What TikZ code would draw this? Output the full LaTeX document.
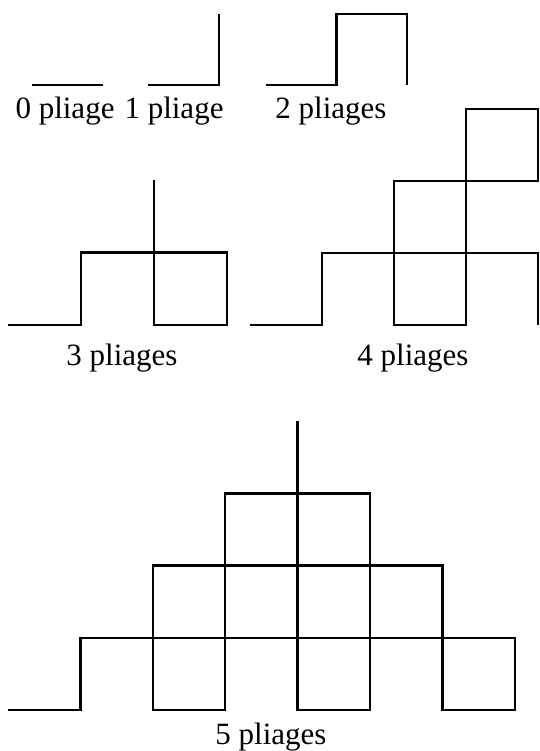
\documentclass[tikz,border=0pt]{standalone}
\usepackage{fontspec}
\setmainfont{Liberation Serif}
\begin{document}
\begin{tikzpicture}[x=1pt,y=-1pt,
  curve/.style={line width=2.3pt,line join=miter,line cap=butt},
  lbl/.style={anchor=base,inner sep=0pt,font=\fontsize{31}{36}\selectfont}]
\useasboundingbox[fill=white] (0,0) rectangle (539,751);
% top row
\begin{scope}[xshift=32pt,yshift=-85pt,x=71pt,y=71pt]
  \draw[curve] (0,0) -- (1,0);
\end{scope}
\begin{scope}[xshift=148pt,yshift=-85pt,x=71pt,y=71pt]
  \draw[curve] (0,0) -- (1,0) -- (1,1);
\end{scope}
\begin{scope}[xshift=266pt,yshift=-85pt,x=70.5pt,y=71pt]
  \draw[curve] (0,0) -- (1,0) -- (1,1) -- (2,1) -- (2,0);
\end{scope}
\node[lbl] (l0) at (65,119) {0 pliage};
\node[lbl] (l1) at (174,119) {1 pliage};
\node[lbl] (l2) at (331,119) {2 pliages};
% 3 pliages
\begin{scope}[xshift=8pt,yshift=-325pt,x=73pt,y=72.5pt]
  \draw[curve] (0,0) -- (1,0) -- (1,1) -- (2,1) -- (3,1) -- (3,0) -- (2,0) -- (2,1) -- (2,2);
\end{scope}
\node[lbl] (l3) at (122,365) {3 pliages};
% 4 pliages
\begin{scope}[xshift=250pt,yshift=-325pt,x=72pt,y=72pt]
  \draw[curve] (0,0) -- (1,0) -- (1,1) -- (2,1) -- (2,2) -- (3,2) -- (3,3) -- (4,3) -- (4,2)
    -- (3,2) -- (3,1) -- (2,1) -- (2,0) -- (3,0) -- (3,1) -- (4,1) -- (4,0);
\end{scope}
\node[lbl] (l4) at (413,365) {4 pliages};
% 5 pliages
\begin{scope}[xshift=8pt,yshift=-710pt,x=72.4pt,y=72.2pt]
  \draw[curve] (0,0) -- (1,0) -- (1,1) -- (2,1) -- (2,2) -- (3,2) -- (3,3) -- (4,3) -- (5,3)
    -- (5,2) -- (6,2) -- (6,1) -- (7,1) -- (7,0) -- (6,0) -- (6,1) -- (5,1) -- (5,2) -- (4,2)
    -- (3,2) -- (3,1) -- (2,1) -- (2,0) -- (3,0) -- (3,1) -- (4,1) -- (4,0) -- (5,0) -- (5,1)
    -- (4,1) -- (4,2) -- (4,3) -- (4,4);
\end{scope}
\node[lbl] (l5) at (271,744) {5 pliages};
\end{tikzpicture}
\end{document}
